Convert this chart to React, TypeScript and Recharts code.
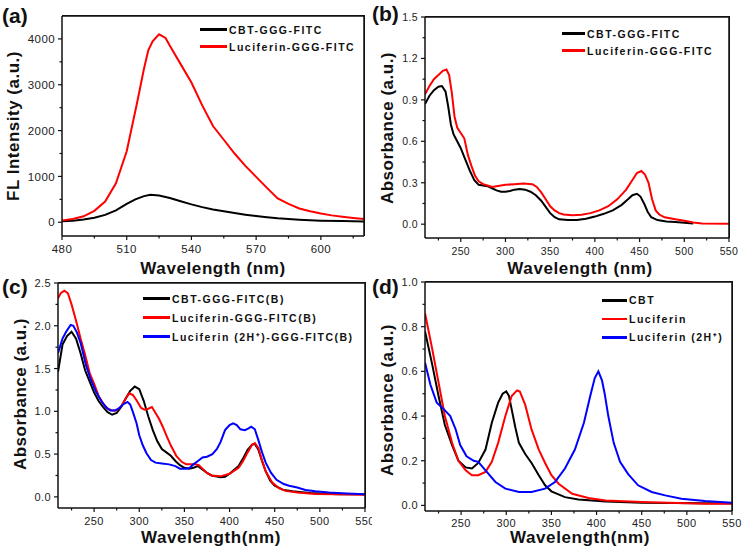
import { LineChart, Line, XAxis, YAxis, Legend } from 'recharts'

type Pt = [number, number]

// (a) fluorescence, wavelength (nm) vs intensity
const aCbt: Pt[] = [
  [480, 20], [485, 35], [490, 60], [495, 100], [500, 160], [505, 260], [510, 400], [514, 500],
  [518, 570], [521, 600], [525, 585], [530, 530], [535, 460], [540, 390], [545, 330], [550, 280],
  [555, 240], [560, 200], [565, 165], [570, 135], [575, 110], [580, 85], [590, 55], [600, 35],
  [610, 25], [620, 18],
]
const aLuc: Pt[] = [
  [480, 40], [485, 70], [490, 130], [495, 250], [500, 450], [505, 850], [510, 1550], [515, 2650],
  [518, 3350], [520, 3750], [522, 3950], [525, 4100], [528, 4020], [530, 3850], [535, 3450],
  [540, 3050], [545, 2550], [550, 2100], [555, 1800], [560, 1500], [565, 1230], [570, 990],
  [575, 750], [580, 520], [585, 400], [590, 300], [595, 240], [600, 190], [605, 150], [610, 120],
  [615, 95], [620, 70],
]

// (b) absorbance
const bCbt: Pt[] = [
  [210, 0.87], [215, 0.93], [220, 0.97], [225, 0.995], [229, 1.0], [233, 0.96], [236, 0.85],
  [239, 0.72], [242, 0.65], [246, 0.6], [250, 0.55], [255, 0.47], [260, 0.39], [265, 0.32],
  [270, 0.285], [275, 0.28], [280, 0.275], [285, 0.26], [290, 0.245], [295, 0.235], [300, 0.235],
  [305, 0.24], [310, 0.25], [316, 0.255], [322, 0.25], [328, 0.235], [334, 0.21], [340, 0.17],
  [345, 0.125], [350, 0.08], [355, 0.05], [360, 0.035], [370, 0.03], [380, 0.03], [390, 0.04],
  [400, 0.055], [410, 0.075], [420, 0.1], [430, 0.14], [437, 0.18], [442, 0.21], [447, 0.22],
  [451, 0.2], [455, 0.15], [459, 0.09], [463, 0.05], [470, 0.03], [480, 0.02], [490, 0.015],
  [500, 0.01], [510, 0.005],
]
const bLuc: Pt[] = [
  [210, 0.94], [215, 1.0], [220, 1.05], [225, 1.08], [230, 1.11], [234, 1.12], [237, 1.08],
  [240, 0.95], [243, 0.78], [246, 0.7], [250, 0.66], [254, 0.62], [258, 0.5], [262, 0.42],
  [266, 0.35], [270, 0.31], [275, 0.29], [280, 0.28], [285, 0.27], [290, 0.275], [300, 0.285],
  [310, 0.29], [320, 0.295], [330, 0.29], [335, 0.27], [340, 0.23], [345, 0.18], [350, 0.13],
  [355, 0.1], [360, 0.08], [365, 0.07], [375, 0.065], [385, 0.068], [395, 0.08], [405, 0.1],
  [415, 0.13], [425, 0.18], [435, 0.25], [442, 0.32], [447, 0.37], [452, 0.385], [456, 0.36],
  [460, 0.3], [464, 0.18], [468, 0.1], [472, 0.07], [478, 0.05], [490, 0.035], [500, 0.025],
  [510, 0.012], [520, 0.005], [550, 0.003],
]

// (c) absorbance, FITC(B)
const cCbt: Pt[] = [
  [210, 1.46], [215, 1.78], [220, 1.88], [225, 1.93], [230, 1.85], [235, 1.68], [240, 1.48],
  [245, 1.35], [250, 1.22], [255, 1.12], [260, 1.05], [265, 0.99], [270, 0.96], [275, 0.98],
  [280, 1.05], [285, 1.15], [290, 1.24], [295, 1.29], [300, 1.26], [305, 1.12], [310, 0.94],
  [315, 0.78], [320, 0.65], [325, 0.56], [330, 0.52], [335, 0.48], [340, 0.42], [345, 0.37],
  [350, 0.34], [355, 0.33], [360, 0.34], [365, 0.36], [370, 0.32], [375, 0.28], [380, 0.25],
  [390, 0.23], [395, 0.235], [400, 0.27], [410, 0.36], [415, 0.45], [420, 0.55], [425, 0.61],
  [428, 0.62], [432, 0.55], [436, 0.42], [440, 0.3], [445, 0.19], [450, 0.13], [460, 0.08],
  [470, 0.065], [480, 0.055], [490, 0.045], [500, 0.04], [520, 0.03], [550, 0.03],
]
const cLuc: Pt[] = [
  [210, 2.32], [213, 2.38], [217, 2.41], [221, 2.38], [225, 2.25], [230, 2.06], [235, 1.85],
  [240, 1.66], [245, 1.45], [250, 1.32], [255, 1.18], [260, 1.09], [265, 1.03], [270, 1.01],
  [275, 1.01], [280, 1.06], [285, 1.15], [289, 1.21], [293, 1.19], [297, 1.13], [302, 1.04],
  [306, 1.02], [310, 1.03], [314, 1.05], [318, 0.98], [322, 0.91], [326, 0.82], [330, 0.72],
  [335, 0.6], [341, 0.48], [347, 0.41], [352, 0.38], [358, 0.38], [362, 0.38], [366, 0.37],
  [370, 0.33], [375, 0.28], [380, 0.25], [390, 0.24], [400, 0.27], [410, 0.34], [415, 0.42],
  [420, 0.52], [425, 0.61], [428, 0.63], [432, 0.57], [436, 0.42], [440, 0.3], [447, 0.17],
  [455, 0.1], [462, 0.07], [475, 0.05], [495, 0.035], [520, 0.03], [550, 0.025],
]
const cLuc2H: Pt[] = [
  [210, 1.68], [215, 1.85], [219, 1.93], [224, 2.01], [227, 2.0], [231, 1.92], [235, 1.8],
  [241, 1.54], [246, 1.38], [252, 1.23], [258, 1.12], [263, 1.05], [268, 1.01], [273, 1.01],
  [277, 1.03], [282, 1.08], [287, 1.11], [290, 1.08], [293, 0.99], [297, 0.86], [300, 0.72],
  [304, 0.6], [308, 0.51], [313, 0.43], [318, 0.4], [325, 0.39], [333, 0.38], [340, 0.36],
  [345, 0.33], [352, 0.33], [356, 0.34], [360, 0.38], [365, 0.42], [370, 0.46], [375, 0.47],
  [381, 0.5], [386, 0.56], [390, 0.64], [395, 0.78], [400, 0.84], [404, 0.86], [408, 0.84],
  [412, 0.79], [417, 0.78], [421, 0.8], [424, 0.82], [428, 0.79], [432, 0.66], [436, 0.52],
  [440, 0.4], [446, 0.28], [452, 0.2], [460, 0.15], [466, 0.13], [475, 0.11], [484, 0.08],
  [495, 0.065], [510, 0.05], [530, 0.04], [550, 0.03],
]

// (d) absorbance, free compounds
const dCbt: Pt[] = [
  [210, 0.78], [218, 0.63], [225, 0.49], [232, 0.36], [240, 0.27], [247, 0.2], [255, 0.17],
  [262, 0.165], [269, 0.19], [277, 0.25], [284, 0.37], [291, 0.46], [296, 0.5], [300, 0.51],
  [303, 0.49], [306, 0.43], [310, 0.35], [314, 0.28], [321, 0.23], [328, 0.19], [336, 0.135],
  [343, 0.09], [350, 0.063], [365, 0.037], [380, 0.027], [410, 0.018], [450, 0.012],
  [520, 0.01], [550, 0.01],
]
const dLuc: Pt[] = [
  [210, 0.86], [218, 0.7], [225, 0.55], [232, 0.4], [240, 0.28], [247, 0.2], [255, 0.157],
  [262, 0.135], [269, 0.135], [277, 0.15], [284, 0.195], [291, 0.28], [299, 0.4], [306, 0.49],
  [312, 0.515], [315, 0.51], [321, 0.45], [328, 0.34], [336, 0.25], [343, 0.19], [350, 0.135],
  [358, 0.097], [373, 0.052], [391, 0.033], [410, 0.022], [450, 0.015], [520, 0.008],
  [550, 0.007],
]
const dLuc2H: Pt[] = [
  [210, 0.64], [216, 0.54], [223, 0.46], [231, 0.43], [238, 0.4], [244, 0.34], [249, 0.27],
  [256, 0.22], [264, 0.2], [269, 0.195], [277, 0.157], [288, 0.105], [299, 0.075],
  [314, 0.06], [328, 0.06], [343, 0.075], [354, 0.105], [365, 0.165], [376, 0.25],
  [386, 0.37], [393, 0.49], [398, 0.57], [402, 0.6], [406, 0.56], [409, 0.5], [413, 0.4],
  [419, 0.28], [426, 0.195], [435, 0.14], [446, 0.09], [461, 0.06], [476, 0.045],
  [494, 0.03], [520, 0.02], [550, 0.012],
]

const aXTicks = [480, 510, 540, 570, 600]
const aYTicks = [0, 1000, 2000, 3000, 4000]
const nmTicks = [250, 300, 350, 400, 450, 500, 550]
const bYTicks = [0, 0.3, 0.6, 0.9, 1.2, 1.5]
const cYTicks = [0, 0.5, 1.0, 1.5, 2.0, 2.5]
const dYTicks = [0, 0.2, 0.4, 0.6, 0.8, 1.0]

const aNames = ['CBT-GGG-FITC', 'Luciferin-GGG-FITC']
const cNames = ['CBT-GGG-FITC(B)', 'Luciferin-GGG-FITC(B)', 'Luciferin (2H\u207A)-GGG-FITC(B)']
const dNames = ['CBT', 'Luciferin', 'Luciferin (2H\u207A)']

const BLACK = '#000000'
const RED = '#ff0000'
const BLUE = '#0000ff'
const AXIS = '#111111'
const FONT = '"Liberation Sans", Arial, sans-serif'

// majors plus half-step minors inside the domain
function withMinor(majors: number[], lo: number, hi: number) {
  const step = majors[1] - majors[0]
  const out = [...majors]
  for (let v = majors[0] - step / 2; v < hi - 1e-9; v += step) {
    if (v > lo + 1e-9) out.push(+v.toFixed(4))
  }
  return out.sort((p, q) => p - q)
}

const isMajor = (majors: number[], v: number) => majors.some((m) => Math.abs(m - v) < 1e-6)

type Series = { name: string; color: string; pts: Pt[] }

type PanelProps = {
  tag: string
  left: number
  top: number
  width: number
  height: number
  margin: { top: number; right: number; bottom: number }
  yWidth: number
  xHeight: number
  xDomain: [number, number]
  yDomain: [number, number]
  xMajors: number[]
  yMajors: number[]
  yDigits: number
  tickFont: number
  xLabelDy: number
  xTitle: string
  yTitle: string
  xTitlePos: [number, number]
  yTitlePos: [number, number]
  series: Series[]
  legendPos: [number, number]
  legendRow: number
  legendLine: number
  tagPos: [number, number]
}

function Panel(p: PanelProps) {
  const xTicks = withMinor(p.xMajors, p.xDomain[0], p.xDomain[1])
  const yTicks = withMinor(p.yMajors, p.yDomain[0], p.yDomain[1])
  const plotL = p.yWidth
  const plotR = p.width - p.margin.right
  const plotT = p.margin.top
  const plotB = p.height - p.margin.bottom - p.xHeight

  const xTick = (t: any) => {
    const major = isMajor(p.xMajors, t.payload.value)
    return (
      <g>
        <line x1={t.x} x2={t.x} y1={t.y} y2={t.y + (major ? 4 : 2.5)} stroke={AXIS} strokeWidth={1.2} />
        {major && (
          <text x={t.x} y={t.y + p.xLabelDy} textAnchor="middle" fontSize={p.tickFont}
            fontFamily={FONT} fill="#222" letterSpacing={0.4}>
            {t.payload.value}
          </text>
        )}
      </g>
    )
  }
  const yTick = (t: any) => {
    const major = isMajor(p.yMajors, t.payload.value)
    return (
      <g>
        <line x1={t.x - (major ? 4 : 2.5)} x2={t.x} y1={t.y} y2={t.y} stroke={AXIS} strokeWidth={1.2} />
        {major && (
          <text x={t.x - 7} y={t.y} dy="0.36em" textAnchor="end" fontSize={p.tickFont}
            fontFamily={FONT} fill="#222" letterSpacing={0.4}>
            {Number(t.payload.value).toFixed(p.yDigits)}
          </text>
        )}
      </g>
    )
  }

  const titleStyle = { fontFamily: FONT, fontWeight: 700, fontSize: 17, fill: '#111' }

  // x title, plus the top and right edges of the plot frame
  const xLabel = () => (
    <g>
      <polyline points={`${plotL},${plotT} ${plotR},${plotT} ${plotR},${plotB}`} fill="none"
        stroke={AXIS} strokeWidth={1.5} />
      <text x={p.xTitlePos[0]} y={p.xTitlePos[1]} textAnchor="middle" dominantBaseline="central"
        letterSpacing={0.6} style={titleStyle}>
        {p.xTitle}
      </text>
    </g>
  )

  const legendContent = () => (
    <div style={{ fontFamily: FONT, fontWeight: 700, fontSize: 10.5, letterSpacing: 1.5, color: '#111' }}>
      {p.series.map((s) => (
        <div key={s.name} style={{ display: 'flex', alignItems: 'center', height: p.legendRow, whiteSpace: 'nowrap' }}>
          <span style={{ display: 'inline-block', width: p.legendLine, height: 2.5, background: s.color, marginRight: 2 }} />
          <span>{s.name}</span>
        </div>
      ))}
    </div>
  )

  return (
    <div style={{ position: 'absolute', left: p.left, top: p.top, width: p.width, height: p.height }}>
      <LineChart width={p.width} height={p.height}
        margin={{ top: p.margin.top, right: p.margin.right, bottom: p.margin.bottom, left: 0 }}>
        <XAxis dataKey="x" type="number" domain={p.xDomain} ticks={xTicks} interval={0}
          allowDataOverflow tickSize={0} tickMargin={0} tick={xTick} height={p.xHeight}
          axisLine={{ stroke: AXIS, strokeWidth: 1.5 }} label={xLabel} />
        <YAxis type="number" domain={p.yDomain} ticks={yTicks} interval={0} allowDataOverflow
          tickSize={0} tickMargin={0} tick={yTick} width={p.yWidth}
          axisLine={{ stroke: AXIS, strokeWidth: 1.5 }}
          label={() => (
            <text x={p.yTitlePos[0]} y={p.yTitlePos[1]} textAnchor="middle" dominantBaseline="central"
              transform={`rotate(-90 ${p.yTitlePos[0]} ${p.yTitlePos[1]})`} letterSpacing={0.5}
              style={titleStyle}>
              {p.yTitle}
            </text>
          )} />
        {p.series.map((s) => (
          <Line key={s.name} name={s.name} data={s.pts.map(([x, y]) => ({ x, y }))} dataKey="y"
            type="linear" stroke={s.color} strokeWidth={2} dot={false} isAnimationActive={false} />
        ))}
        <Legend layout="vertical" align="center" verticalAlign="middle" content={legendContent}
          wrapperStyle={{ left: p.legendPos[0], top: p.legendPos[1], width: 'auto' }} />
      </LineChart>
      {/* same frame edges drawn in HTML, in case the svg label layer is clipped */}
      <div style={{ position: 'absolute', left: plotL, top: plotT - 1, width: plotR - plotL,
        height: plotB - plotT, borderTop: `1px solid ${AXIS}`, borderRight: `1px solid ${AXIS}`,
        pointerEvents: 'none', zIndex: 2 }} />
      <div style={{ position: 'absolute', left: p.tagPos[0], top: p.tagPos[1], fontFamily: FONT,
        fontWeight: 700, fontSize: 21, color: '#111', lineHeight: 1 }}>
        {p.tag}
      </div>
    </div>
  )
}

export default function App() {
  return (
    <div style={{ position: 'absolute', left: 0, top: 0, width: 745, height: 555, background: '#fff', overflow: 'hidden' }}>
      <Panel tag="(a)" left={0} top={0} width={372} height={283}
        margin={{ top: 16, right: 8, bottom: 8 }} yWidth={62} xHeight={39}
        xDomain={[480, 620]} yDomain={[-300, 4500]} xMajors={aXTicks} yMajors={aYTicks} yDigits={0}
        tickFont={11.5} xLabelDy={17} xTitle="Wavelength (nm)" yTitle="FL Intensity (a.u.)"
        xTitlePos={[213, 268]} yTitlePos={[13, 126]}
        series={[{ name: aNames[0], color: BLACK, pts: aCbt }, { name: aNames[1], color: RED, pts: aLuc }]}
        legendPos={[200, 21]} legendRow={17} legendLine={27} tagPos={[2, 5]} />
      <Panel tag="(b)" left={372} top={0} width={373} height={283}
        margin={{ top: 17, right: 16, bottom: 8 }} yWidth={53} xHeight={37}
        xDomain={[210, 550]} yDomain={[-0.1, 1.5]} xMajors={nmTicks} yMajors={bYTicks} yDigits={1}
        tickFont={10.5} xLabelDy={17} xTitle="Wavelength (nm)" yTitle="Absorbance (a.u.)"
        xTitlePos={[208, 268]} yTitlePos={[15, 128]}
        series={[{ name: aNames[0], color: BLACK, pts: bCbt }, { name: aNames[1], color: RED, pts: bLuc }]}
        legendPos={[190, 25]} legendRow={17} legendLine={23} tagPos={[0, 3]} />
      <Panel tag="(c)" left={0} top={275} width={372} height={280}
        margin={{ top: 8, right: 7, bottom: 0 }} yWidth={58} xHeight={47}
        xDomain={[210, 550]} yDomain={[-0.13, 2.5]} xMajors={nmTicks} yMajors={cYTicks} yDigits={1}
        tickFont={11} xLabelDy={16.5} xTitle="Wavelength(nm)" yTitle="Absorbance (a.u.)"
        xTitlePos={[211, 262]} yTitlePos={[20, 119]}
        series={[
          { name: cNames[0], color: BLACK, pts: cCbt },
          { name: cNames[1], color: RED, pts: cLuc },
          { name: cNames[2], color: BLUE, pts: cLuc2H },
        ]}
        legendPos={[143, 14]} legendRow={19} legendLine={27} tagPos={[2, 1]} />
      <Panel tag="(d)" left={372} top={275} width={373} height={280}
        margin={{ top: 7, right: 13, bottom: 0 }} yWidth={53} xHeight={44}
        xDomain={[210, 550]} yDomain={[-0.025, 1.0]} xMajors={nmTicks} yMajors={dYTicks} yDigits={1}
        tickFont={11} xLabelDy={15.5} xTitle="Wavelength(nm)" yTitle="Absorbance (a.u.)"
        xTitlePos={[208, 262]} yTitlePos={[15, 125]}
        series={[
          { name: dNames[0], color: BLACK, pts: dCbt },
          { name: dNames[1], color: RED, pts: dLuc },
          { name: dNames[2], color: BLUE, pts: dLuc2H },
        ]}
        legendPos={[230, 16]} legendRow={18.5} legendLine={25} tagPos={[0, 1]} />
    </div>
  )
}
